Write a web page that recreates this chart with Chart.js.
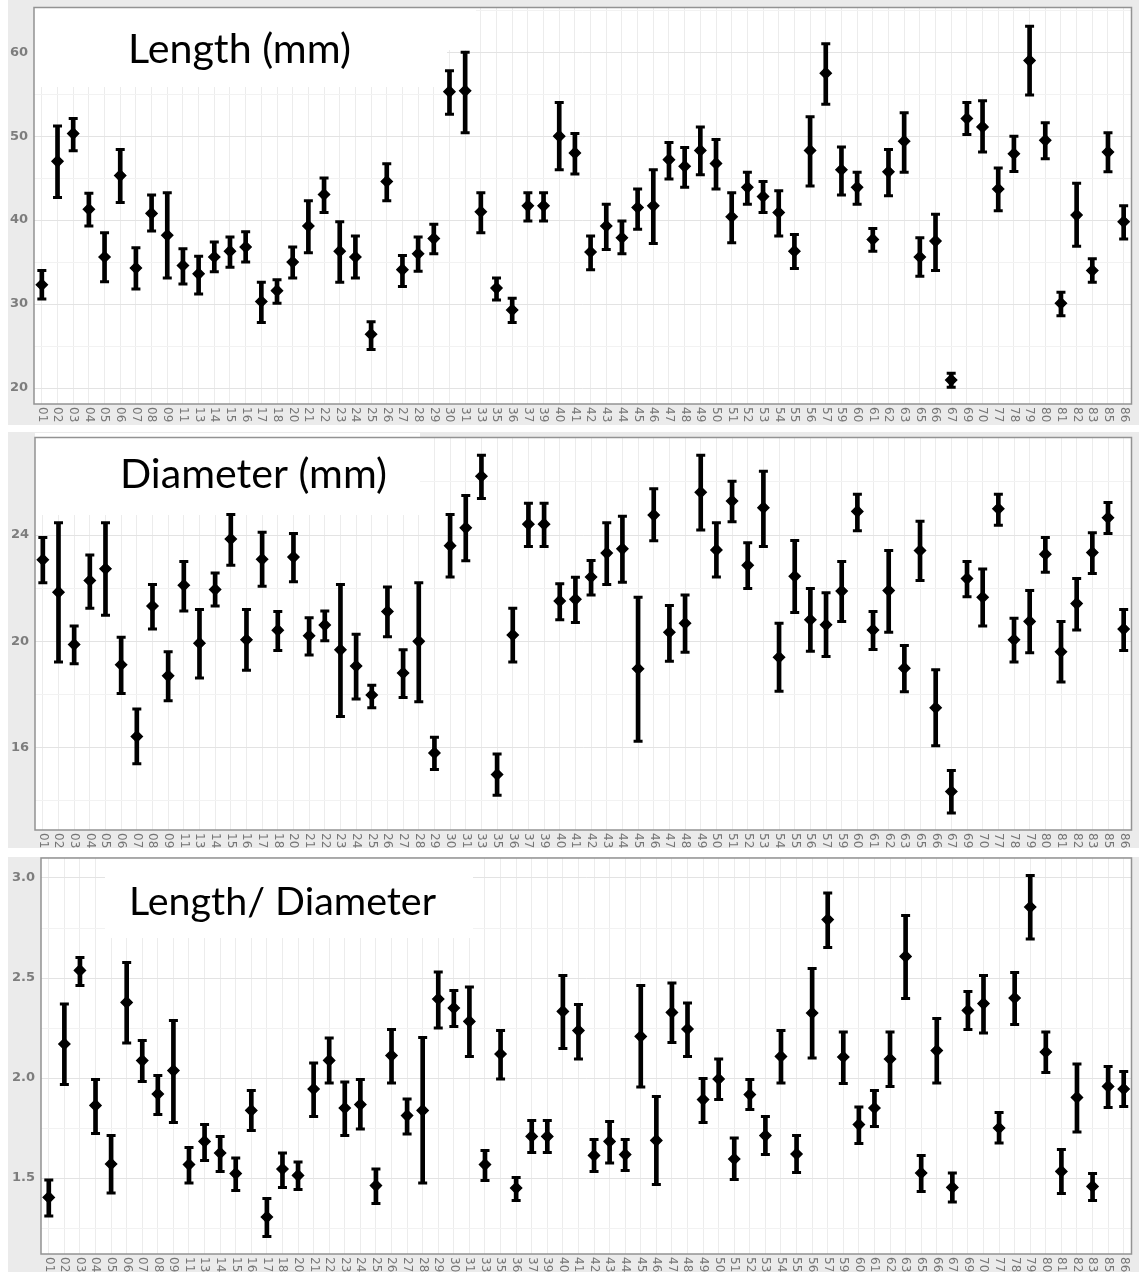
<!DOCTYPE html>
<html><head><meta charset="utf-8">
<script src="https://cdn.jsdelivr.net/npm/chart.js@4.4.1/dist/chart.umd.min.js"></script>
<style>
html,body{margin:0;padding:0;background:#fff;}
body{width:1139px;height:1272px;position:relative;overflow:hidden;}
.p{position:absolute;left:0;width:1139px;}
</style></head><body>
<div class="p" style="top:0;height:427px"><canvas id="c1"></canvas></div>
<div class="p" style="top:430px;height:420px"><canvas id="c2"></canvas></div>
<div class="p" style="top:850px;height:422px"><canvas id="c3"></canvas></div>
<script>
const categories = ['01','02','03','04','05','06','07','08','09','11','13','14','15','16','17','18','20','21','22','23','24','25','26','27','28','29','30','31','33','35','36','37','39','40','41','42','43','44','45','46','47','48','49','50','51','52','53','54','55','56','57','59','60','61','62','63','65','66','67','69','70','77','78','79','80','81','82','83','85','86'];

const lengthMean = [32.3,47.0,50.3,41.3,35.6,45.3,34.3,40.8,38.2,34.6,33.6,35.6,36.3,36.8,30.3,31.6,35.0,39.3,43.05,36.3,35.6,26.4,44.6,34.1,36.0,37.8,55.3,55.4,41.0,31.9,29.3,41.7,41.7,50.0,48.0,36.2,39.3,37.9,41.5,41.7,47.2,46.4,48.3,46.75,40.4,43.9,42.8,40.9,36.3,48.3,57.5,46.0,43.9,37.7,45.75,49.4,35.6,37.5,20.95,52.1,51.1,43.7,47.9,59.0,49.5,30.1,40.6,34.0,48.1,39.8];
const lengthLow = [30.6,42.7,48.25,39.3,32.65,42.1,31.8,38.7,33.1,32.4,31.2,33.85,34.4,35.0,27.8,30.1,33.1,36.1,40.9,32.6,33.1,24.6,42.3,32.1,33.9,36.0,52.6,50.4,38.5,30.5,27.8,39.9,39.9,46.0,45.5,34.1,36.5,36.0,38.9,37.2,44.9,43.9,45.4,43.7,37.3,41.9,40.9,38.1,34.25,44.05,53.8,43.0,41.9,36.3,42.9,45.7,33.3,34.0,20.1,50.2,48.1,41.1,45.8,54.9,47.3,28.6,36.9,32.6,45.75,37.75];
const lengthHigh = [34.0,51.2,52.1,43.2,38.5,48.4,36.7,43.0,43.25,36.6,35.7,37.4,38.0,38.6,32.6,32.9,36.8,42.3,45.0,39.8,38.1,27.9,46.7,35.8,38.0,39.5,57.8,60.0,43.25,33.1,30.7,43.25,43.25,54.0,50.3,38.1,41.9,39.9,43.7,46.0,49.25,48.65,51.1,49.6,43.25,45.7,44.6,43.5,38.3,52.3,61.0,48.7,45.7,39.0,48.4,52.8,37.9,40.7,21.75,54.0,54.2,46.2,50.0,63.1,51.6,31.4,44.4,35.4,50.4,41.7];

const diamMean = [23.07,21.85,19.88,22.29,22.73,19.12,16.42,21.33,18.70,22.11,19.93,21.95,23.85,20.06,23.09,20.42,23.17,20.21,20.61,19.68,19.07,17.98,21.12,18.81,20.0,15.8,23.6,24.27,26.21,14.99,20.24,24.41,24.41,21.52,21.58,22.42,23.32,23.48,18.97,24.75,20.34,20.68,25.61,23.44,25.28,22.86,25.03,19.4,22.45,20.81,20.62,21.89,24.89,20.43,21.91,18.99,23.42,17.5,14.35,22.36,21.66,24.99,20.06,20.75,23.28,19.61,21.42,23.34,24.65,20.46];
const diamLow = [22.2,19.22,19.16,21.24,20.98,18.04,15.39,20.46,17.76,21.14,18.62,21.33,22.86,18.91,22.07,19.65,22.24,19.49,20.02,17.17,17.83,17.5,20.17,17.89,17.73,15.18,22.42,23.03,25.37,14.21,19.22,23.57,23.57,20.81,20.71,21.74,22.14,22.22,16.24,23.78,19.25,19.59,24.19,22.42,24.5,21.99,23.57,18.12,21.08,19.63,19.43,20.75,24.16,19.69,20.34,18.1,22.29,16.07,13.54,21.68,20.58,24.37,19.22,19.57,22.6,18.47,20.43,22.55,24.06,19.65];
const diamHigh = [23.91,24.46,20.58,23.25,24.46,20.15,17.45,22.14,19.61,23.0,21.2,22.57,24.77,21.2,24.1,21.12,24.06,20.89,21.14,22.14,20.27,18.35,22.04,19.68,22.2,16.39,24.77,25.49,27.0,15.76,21.24,25.2,25.2,22.17,22.41,23.04,24.46,24.71,21.66,25.74,21.35,21.74,27.0,24.46,26.02,23.71,26.4,20.68,23.79,21.99,21.83,23.0,25.53,21.12,23.42,19.84,24.52,18.93,15.14,23.0,22.72,25.53,20.87,21.91,23.91,20.75,22.36,24.09,25.22,21.2];

const ratioMean = [1.403,2.17,2.538,1.863,1.57,2.378,2.087,1.92,2.037,1.567,1.683,1.625,1.522,1.838,1.305,1.545,1.513,1.945,2.088,1.85,1.867,1.462,2.112,1.812,1.838,2.395,2.35,2.283,1.567,2.12,1.45,1.708,1.708,2.333,2.237,1.613,1.683,1.617,2.208,1.688,2.328,2.245,1.892,1.995,1.595,1.917,1.712,2.108,1.62,2.325,2.792,2.105,1.767,1.85,2.095,2.608,1.525,2.137,1.453,2.338,2.372,1.75,2.4,2.855,2.13,1.533,1.903,1.458,1.958,1.945];
const ratioLow = [1.31,1.967,2.462,1.722,1.425,2.175,1.983,1.817,1.778,1.475,1.588,1.533,1.438,1.738,1.208,1.453,1.442,1.808,1.975,1.713,1.745,1.372,1.975,1.72,1.475,2.25,2.258,2.108,1.487,1.995,1.388,1.628,1.628,2.147,2.095,1.533,1.575,1.538,1.955,1.467,2.178,2.108,1.778,1.892,1.492,1.842,1.617,1.975,1.528,2.1,2.653,1.972,1.672,1.758,1.958,2.397,1.433,1.975,1.38,2.242,2.225,1.675,2.267,2.695,2.028,1.422,1.73,1.388,1.853,1.858];
const ratioHigh = [1.49,2.37,2.603,1.992,1.712,2.578,2.187,2.012,2.288,1.653,1.767,1.708,1.6,1.937,1.397,1.625,1.58,2.075,2.2,1.98,1.992,1.545,2.242,1.895,2.203,2.53,2.437,2.455,1.638,2.238,1.503,1.787,1.787,2.513,2.367,1.692,1.783,1.692,2.462,1.908,2.475,2.375,1.997,2.095,1.7,1.992,1.808,2.237,1.712,2.547,2.925,2.23,1.855,1.937,2.23,2.813,1.613,2.297,1.525,2.433,2.513,1.828,2.528,3.013,2.23,1.642,2.07,1.522,2.058,2.033];

const panelTitles = ['Length (mm)', 'Diameter (mm)', 'Length/ Diameter'];

function decoPlugin(o) {
  return {
    id: 'deco',
    beforeDraw(chart) {
      const ctx = chart.ctx, a = chart.chartArea;
      ctx.save();
      ctx.fillStyle = '#ebebeb';
      ctx.fillRect(o.bg[0], o.bg[1], o.bg[2] - o.bg[0], o.bg[3] - o.bg[1]);
      ctx.fillStyle = '#ffffff';
      ctx.fillRect(a.left, a.top, a.right - a.left, a.bottom - a.top);
      ctx.restore();
    },
    beforeDatasetsDraw(chart) {
      const ctx = chart.ctx, a = chart.chartArea;
      ctx.save();
      ctx.fillStyle = '#ffffff';
      o.boxes.forEach(b => ctx.fillRect(b[0], b[1], b[2] - b[0], b[3] - b[1]));
      ctx.strokeStyle = '#939393';
      ctx.lineWidth = 1.5;
      ctx.strokeRect(a.left, a.top, a.right - a.left, a.bottom - a.top);
      ctx.restore();
    },
    afterDraw(chart) {
      const ctx = chart.ctx, a = chart.chartArea, xs = chart.scales.x;
      ctx.save();
      ctx.fillStyle = '#757575';
      ctx.font = '12px "DejaVu Sans"';
      ctx.textAlign = 'left';
      ctx.textBaseline = 'middle';
      categories.forEach((lab, i) => {
        const x = xs.getPixelForTick(i);
        ctx.save();
        ctx.translate(x, a.bottom + 3);
        ctx.rotate(Math.PI / 2);
        ctx.fillText(lab, 0, 0);
        ctx.restore();
      });
      ctx.fillStyle = '#000000';
      ctx.textBaseline = 'alphabetic';
      ctx.font = '40px Lato';
      const w = ctx.measureText(o.title).width;
      const size = 40 * o.titleW / w;
      ctx.font = size.toFixed(2) + 'px Lato';
      ctx.fillText(o.title, o.titleX, o.titleY);
      ctx.restore();
    }
  };
}

function makeChart(id, o) {
  const bars = o.low.map((l, i) => [l, o.high[i]]);
  return new Chart(document.getElementById(id), {
    type: 'bar',
    data: {
      labels: categories,
      datasets: [
        { type: 'line', data: o.mean, showLine: false, pointStyle: 'rectRot', pointRadius: 5.5,
          pointBackgroundColor: '#000', pointBorderColor: '#000', pointBorderWidth: 1.5, order: 0 },
        { type: 'line', data: o.low, showLine: false, pointStyle: 'line', pointRadius: 4.5,
          pointBorderColor: '#000', pointBorderWidth: 3, order: 1 },
        { type: 'line', data: o.high, showLine: false, pointStyle: 'line', pointRadius: 4.5,
          pointBorderColor: '#000', pointBorderWidth: 3, order: 1 },
        { type: 'bar', data: bars, backgroundColor: '#000', borderWidth: 0, barThickness: 4, order: 2 }
      ]
    },
    options: {
      responsive: true,
      maintainAspectRatio: false,
      animation: false,
      events: [],
      layout: { padding: { left: 0, right: 2, top: o.padTop, bottom: o.padBottom } },
      plugins: { legend: { display: false }, tooltip: { enabled: false } },
      scales: {
        x: {
          type: 'category', offset: true,
          grid: { offset: false, color: '#ececec', lineWidth: 1, drawTicks: false },
          border: { display: false },
          ticks: { display: false },
          afterFit: s => { s.height = o.xH; s.paddingLeft = 0; s.paddingRight = 0; s.paddingTop = 0; s.paddingBottom = 0; }
        },
        y: {
          min: o.min, max: o.max,
          afterFit: s => { s.width = o.yW; s.paddingTop = 0; s.paddingBottom = 0; s.paddingLeft = 0; s.paddingRight = 0; },
          grid: { color: c => (c.tick && o.isMajor(c.tick.value)) ? '#e3e3e3' : '#f2f2f2', lineWidth: 1, drawTicks: false },
          border: { display: false },
          ticks: {
            stepSize: o.step, includeBounds: false, autoSkip: false, padding: 6,
            color: '#7d7d7d', font: { family: 'DejaVu Sans', weight: 'bold', size: 13 },
            callback: v => o.isMajor(v) ? o.fmt(v) : ''
          }
        }
      }
    },
    plugins: [decoPlugin(o)]
  });
}

makeChart('c1', {
  mean: lengthMean, low: lengthLow, high: lengthHigh,
  min: 18.1, max: 65.32, step: 5,
  isMajor: v => Math.abs(v % 10) < 1e-6, fmt: v => String(v),
  padTop: 7, padBottom: 2, xH: 21, yW: 34,
  bg: [8, 0, 1139, 425],
  boxes: [[34, 7, 447, 87], [447, 7, 476, 50]],
  title: panelTitles[0], titleX: 128, titleY: 63, titleW: 223
});

makeChart('c2', {
  mean: diamMean, low: diamLow, high: diamHigh,
  min: 12.9, max: 27.67, step: 2,
  isMajor: v => Math.abs(v % 4) < 1e-6, fmt: v => String(v),
  padTop: 3, padBottom: 2, xH: 18, yW: 35,
  bg: [8, 2, 1139, 418],
  boxes: [[35, 3, 420, 85]],
  title: panelTitles[1], titleX: 120, titleY: 58, titleW: 267
});

makeChart('c3', {
  mean: ratioMean, low: ratioLow, high: ratioHigh,
  min: 1.12, max: 3.10, step: 0.25,
  isMajor: v => Math.abs(v * 2 - Math.round(v * 2)) < 1e-6, fmt: v => v.toFixed(1),
  padTop: 8, padBottom: 0, xH: 18, yW: 41,
  bg: [8, 7, 1139, 422],
  boxes: [[105, 8, 473, 88]],
  title: panelTitles[2], titleX: 129, titleY: 65, titleW: 307
});
</script>
</body></html>
